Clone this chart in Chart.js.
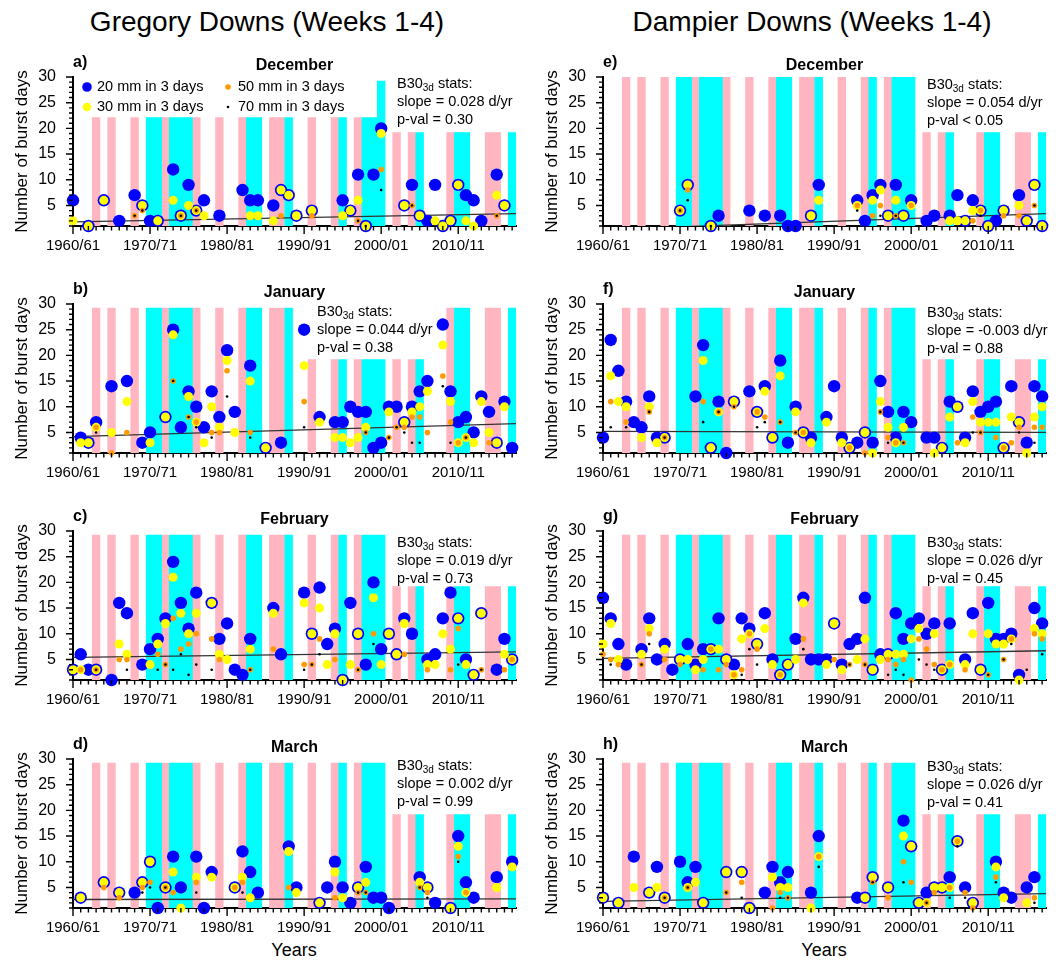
<!DOCTYPE html>
<html>
<head>
<meta charset="utf-8">
<script src="https://cdn.jsdelivr.net/npm/chart.js@4.4.1/dist/chart.umd.min.js"></script>
<style>
  body { margin: 0; background: #fff; width: 1060px; height: 967px; position: relative; overflow: hidden;
         font-family: "Liberation Sans", Arial, Helvetica, sans-serif; color: #000; }
  .box { position: absolute; width: 530px; height: 219px; }
  .head { position: absolute; top: 6px; font-size: 28px; line-height: 32px; white-space: nowrap; transform: translateX(-50%); }
  .years { position: absolute; top: 939px; font-size: 18px; line-height: 22px; transform: translateX(-50%); }
</style>
</head>
<body>
<div class="head" style="left:267px">Gregory Downs (Weeks 1-4)</div>
<div class="head" style="left:812px">Dampier Downs (Weeks 1-4)</div>

<div class="box" style="left:0;top:37px"><canvas id="pa"></canvas></div>
<div class="box" style="left:0;top:264px"><canvas id="pb"></canvas></div>
<div class="box" style="left:0;top:491px"><canvas id="pc"></canvas></div>
<div class="box" style="left:0;top:719px"><canvas id="pd"></canvas></div>
<div class="box" style="left:530px;top:37px"><canvas id="pe"></canvas></div>
<div class="box" style="left:530px;top:264px"><canvas id="pf"></canvas></div>
<div class="box" style="left:530px;top:491px"><canvas id="pg"></canvas></div>
<div class="box" style="left:530px;top:719px"><canvas id="ph"></canvas></div>

<div class="years" style="left:294px">Years</div>
<div class="years" style="left:824px">Years</div>

<script>
const _ = null;
const years = Array.from({length: 58}, (v, i) => 1960 + i);   // 1960/61 .. 2017/18

// ENSO shading
const pinkYears = [1963, 1965, 1968, 1972, 1976, 1979, 1982, 1986, 1987, 1991, 1994, 1997, 2002, 2004, 2009, 2014, 2015];
const cyanYears = [1970, 1971, 1973, 1974, 1975, 1983, 1984, 1988, 1995, 1998, 1999, 2000, 2005, 2010, 2011, 2017];

// band heights: [from, to, top]
const bandsA = [[1960, 1999, 22.1], [2000, 2000, 29.2], [2001, 2017, 19.2]];
const bandsB = [[1960, 1989, 29.2], [1990, 2006, 19.2], [2007, 2017, 29.2]];
const bandsStd = [[1960, 2000, 29.2], [2001, 2017, 19.2]];
const bandsE = [[1960, 2000, 30], [2001, 2017, 19.2]];

// ---- Gregory Downs ----
// December
const gdDec20 = [6,_,1,_,6,_,2,_,7,5, 2,2,_,12,3,9,4,6,_,3, _,_,8,6,6,_,5,8,7,3, _,4,_,_,_,6,4,11,1,11, 20,_,_,5,9,3,2,9,1,2, 9,7,6,2,_,11,5,_];
const gdDec30 = [2,_,1,_,6,_,_,_,_,5, _,2,_,6,3,5,4,3,_,_, _,_,_,3,3,_,2,8,7,3, _,4,_,_,_,3,4,6,1,_, 19,_,_,5,_,3,_,2,1,2, 9,2,1,_,_,7,5,_];
const gdDec50 = [_,_,_,_,_,_,_,_,3,4, _,_,_,_,3,_,4,_,_,_, _,_,_,_,_,_,_,3,_,_, _,3,_,_,_,_,_,2,_,_, 12,_,_,_,5,_,_,_,_,_, _,_,_,_,_,3,_,_];
const gdDec70 = [_,_,_,_,_,_,_,_,3,4, _,_,_,_,3,_,4,_,_,_, _,_,_,_,_,_,_,_,_,_, _,_,_,_,_,_,_,2,1,_, 8,_,_,_,5,_,_,_,_,_, _,_,_,_,_,3,_,_];
// January
const gdJan20 = [_,4,3,7,_,14,_,15,_,3, 5,_,8,25,6,13,10,6,13,8, 21,9,_,18,_,2,_,3,_,_, 25,_,8,_,7,7,10,9,9,2, 3,10,10,7,10,13,15,_,26,13, 7,8,5,12,9,3,11,2];
const gdJan30 = [_,3,3,6,_,5,_,11,_,_, 3,_,8,24,_,12,7,3,10,6, 19,5,_,15,_,2,_,_,_,_, 18,_,7,_,4,4,3,4,6,_, _,9,_,7,9,10,13,_,22,11, 3,4,3,11,5,3,10,_];
const gdJan50 = [_,_,_,6,_,1,_,5,_,_, _,_,_,15,_,8,7,_,5,5, 17,_,_,5,_,_,_,_,_,_, 11,_,_,_,_,_,_,_,5,_, _,4,6,6,8,8,5,_,16,7, 3,4,_,_,3,_,_,_];
const gdJan70 = [_,_,_,5,_,_,_,_,_,_, _,_,_,15,_,8,6,_,4,_, 12,_,_,4,_,_,_,_,_,_, 6,_,_,_,_,_,_,_,5,_, _,4,6,5,3,3,_,_,14,3, _,4,_,_,_,_,_,_];
// February
const gdFeb20 = [3,6,3,3,_,1,16,14,_,4, 7,9,13,24,16,11,18,_,16,9, 12,3,2,9,_,_,15,6,_,_, 18,10,19,8,11,1,16,10,4,20, 7,10,6,13,10,_,5,6,13,18, 13,5,2,14,_,3,9,5];
const gdFeb30 = [3,3,_,3,_,_,8,6,_,_, 4,8,12,21,14,10,14,_,16,6, 5,_,_,7,_,_,14,_,_,_, 16,10,15,4,10,1,4,10,_,17, 4,10,6,12,_,_,4,4,10,7, 13,4,2,14,_,_,6,5];
const gdFeb50 = [_,3,_,3,_,_,5,5,_,_, _,6,4,13,7,8,10,_,9,5, _,_,_,3,_,_,7,_,_,_, 4,4,9,_,5,_,_,3,_,10, _,_,_,6,_,_,3,_,_,3, 11,_,_,3,_,_,3,5];
const gdFeb70 = [_,_,_,3,_,_,_,3,_,_, _,3,4,3,6,2,4,_,3,_, _,_,_,3,_,_,_,_,_,_, 3,4,6,_,_,_,_,3,_,8, _,_,_,_,_,_,_,_,_,_, 4,_,_,3,_,_,_,_];
// March
const gdMar20 = [_,3,_,_,6,_,4,_,4,6, 10,1,5,11,5,_,11,1,8,_, _,5,12,8,4,_,_,_,13,5, _,_,2,5,10,5,2,5,9,3, 3,1,_,_,_,7,5,2,_,1, 15,6,3,_,_,7,_,10];
const gdMar30 = [_,3,_,_,6,_,4,_,_,6, 10,_,5,8,1,_,7,_,7,_, _,5,7,3,_,_,_,_,12,4, _,_,2,_,8,3,_,5,6,_, _,_,_,_,_,6,5,_,_,1, 13,4,_,_,_,5,_,9];
const gdMar50 = [_,_,_,_,5,_,3,_,_,5, 6,_,5,4,_,_,6,_,_,_, _,5,6,_,_,_,_,_,5,_, _,_,_,_,3,_,_,4,4,_, _,_,_,_,_,5,4,_,_,_, 11,4,_,_,_,_,_,_];
const gdMar70 = [_,_,_,_,_,_,_,_,_,4, 5,_,5,_,_,_,4,_,_,_, _,_,4,_,_,_,_,_,_,_, _,_,_,_,_,_,_,4,4,_, _,_,_,_,_,5,3,_,_,_, 10,_,_,_,_,_,_,_];

// ---- Dampier Downs ----
// December
const ddDec20 = [_,_,_,_,_,_,_,_,_,_, 4,9,_,_,1,3,_,_,_,4, _,3,_,3,1,1,_,3,9,_, _,_,_,6,2,7,9,3,9,3, 6,_,2,3,_,3,7,2,6,4, 1,2,4,_,7,2,9,1];
const ddDec30 = [_,_,_,_,_,_,_,_,_,_, 4,9,_,_,1,_,_,_,_,_, _,_,_,_,_,_,_,3,6,_, _,_,_,5,_,6,8,3,6,3, 5,_,_,_,_,2,2,2,4,4, 1,_,4,_,5,2,9,1];
const ddDec50 = [_,_,_,_,_,_,_,_,_,_, 4,8,_,_,_,_,_,_,_,_, _,_,_,_,_,_,_,_,_,_, _,_,_,5,_,3,5,_,3,_, 5,_,_,_,_,_,_,_,2,4, _,_,3,_,3,_,5,_];
const ddDec70 = [_,_,_,_,_,_,_,_,_,_, 4,6,_,_,1,_,_,_,_,_, _,_,_,_,_,_,_,_,_,_, _,_,_,4,_,_,3,_,3,_, _,_,_,_,_,_,_,_,_,3, _,_,_,_,_,_,5,_];
// January
const ddJan20 = [4,23,17,11,7,6,12,4,4,_, _,_,12,22,2,11,1,11,_,13, 9,14,4,19,3,10,5,4,_,8, 14,4,2,3,5,3,15,9,4,9, 7,_,4,4,2,11,10,4,13,9, 10,11,2,14,7,3,14,12];
const ddJan30 = [_,16,11,10,_,4,10,3,4,_, _,_,_,19,2,9,_,11,_,_, 9,13,4,16,_,9,5,3,_,7, _,3,2,_,5,1,11,6,3,6, _,_,_,1,2,8,10,3,11,7, 7,7,2,8,7,1,8,10];
const ddJan50 = [_,11,_,7,_,_,9,_,4,_, _,_,_,11,_,9,_,10,_,_, 9,8,_,7,_,5,5,_,_,_, _,_,2,_,1,_,9,4,3,3, _,_,_,_,_,_,3,_,8,5, _,4,2,3,6,_,6,6];
const ddJan70 = [_,6,_,6,_,_,9,_,4,_, _,_,_,7,_,9,_,10,_,_, 6,7,_,7,_,5,_,_,_,_, _,_,_,_,_,_,9,3,_,3, _,_,_,_,_,_,_,_,5,5, _,_,_,_,5,_,3,_];
// February
const ddFeb20 = [17,13,8,4,_,7,13,5,8,3, 5,8,4,7,7,13,5,4,13,11, 8,14,5,2,4,9,17,5,5,5, 12,4,8,9,17,3,6,6,14,9, 12,13,10,12,3,12,_,5,14,3, 16,9,9,10,2,_,15,12];
const ddFeb30 = [8,12,5,_,_,6,11,_,7,_, 5,5,3,5,7,7,5,2,9,10, 8,11,4,2,4,5,16,_,_,4, 12,3,_,5,9,3,5,6,6,6, 9,11,_,10,3,4,_,4,10,3, 10,8,8,9,1,_,11,10];
const ddFeb50 = [6,5,4,_,_,4,10,_,5,_, 4,_,_,3,7,3,4,2,3,10, 7,_,_,2,_,_,9,_,_,_, 5,_,4,_,4,_,_,5,4,5, 1,9,7,4,3,4,_,3,_,_, 2,_,5,9,_,_,10,9];
const ddFeb70 = [_,4,_,_,_,4,8,_,_,_, _,_,_,_,_,_,_,_,2,7, 4,_,_,_,_,_,7,_,_,_, _,_,4,_,4,_,_,2,3,2, _,5,4,3,_,_,_,_,_,_, 2,_,5,8,_,3,_,6];
// March
const ddMar20 = [3,_,2,_,11,_,4,9,3,_, 10,6,9,2,_,_,8,_,8,1, _,4,9,6,8,_,_,4,15,_, _,_,_,3,3,7,_,5,_,18, 13,2,4,5,5,7,14,5,2,_, _,10,4,3,_,5,7,_];
const ddMar30 = [3,_,2,_,5,_,4,5,3,_, _,5,6,2,_,_,8,_,8,1, _,_,7,5,5,_,_,1,11,_, _,_,_,_,3,7,_,5,_,15, 13,2,2,5,5,5,14,_,2,_, _,9,3,_,_,2,_,_];
const ddMar50 = [_,_,_,_,_,_,_,_,3,_, _,5,_,_,_,_,4,_,6,_, _,_,1,4,3,_,_,_,11,_, _,_,_,_,_,6,_,3,_,10, 6,_,2,4,_,5,14,4,1,_, _,7,_,_,_,_,3,_];
const ddMar70 = [_,_,_,_,_,_,_,_,3,_, _,5,_,_,_,_,4,_,3,_, _,_,_,3,3,_,_,_,9,_, _,_,_,_,_,6,_,_,_,6, _,_,2,_,_,3,13,3,_,_, _,6,_,_,_,_,2,_];

// trend slopes (d/yr) and fitted value at 1960/61
const slopes = [0.028, 0.044, 0.019, 0.002, 0.054, -0.003, 0.026, 0.026];
const trendStart = [1.8, 4.2, 5.4, 2.65, 0.3, 5.2, 5.2, 2.3];
const pvals = ['p-val = 0.30', 'p-val = 0.38', 'p-val = 0.73', 'p-val = 0.99',
               'p-val < 0.05', 'p-val = 0.88', 'p-val = 0.45', 'p-val = 0.41'];

const panels = [
  {id: 'pa', tag: 'a)', month: 'December', s: [gdDec20, gdDec30, gdDec50, gdDec70], bands: bandsA, statsX: 324, statsY: 7, legend: true},
  {id: 'pb', tag: 'b)', month: 'January',  s: [gdJan20, gdJan30, gdJan50, gdJan70], bands: bandsB, statsX: 244, statsY: 8},
  {id: 'pc', tag: 'c)', month: 'February', s: [gdFeb20, gdFeb30, gdFeb50, gdFeb70], bands: bandsStd, statsX: 324, statsY: 12},
  {id: 'pd', tag: 'd)', month: 'March',    s: [gdMar20, gdMar30, gdMar50, gdMar70], bands: bandsStd, statsX: 324, statsY: 7},
  {id: 'pe', tag: 'e)', month: 'December', s: [ddDec20, ddDec30, ddDec50, ddDec70], bands: bandsE, statsX: 324, statsY: 8},
  {id: 'pf', tag: 'f)', month: 'January',  s: [ddJan20, ddJan30, ddJan50, ddJan70], bands: bandsStd, statsX: 324, statsY: 9},
  {id: 'pg', tag: 'g)', month: 'February', s: [ddFeb20, ddFeb30, ddFeb50, ddFeb70], bands: bandsStd, statsX: 324, statsY: 12},
  {id: 'ph', tag: 'h)', month: 'March',    s: [ddMar20, ddMar30, ddMar50, ddMar70], bands: bandsStd, statsX: 324, statsY: 8}
];

const FONT = '"Liberation Sans", Arial, Helvetica, sans-serif';
Chart.defaults.font.family = FONT;
Chart.defaults.color = '#000';

const BLUE = '#0000ff', YELLOW = '#ffff00', ORANGE = '#ff9a00', PINK = '#ffb6c1', CYAN = '#00ffff';
const markers = [
  {label: '20 mm in 3 days', color: BLUE, r: 6.2},
  {label: '30 mm in 3 days', color: YELLOW, r: 4.5},
  {label: '50 mm in 3 days', color: ORANGE, r: 2.8},
  {label: '70 mm in 3 days', color: '#000', r: 1.3}
];

function toPoints(arr) {
  return years.map((yr, i) => ({x: yr, y: arr[i]})).filter(p => p.y !== null);
}
function bandTop(segs, yr) {
  const s = segs.find(g => yr >= g[0] && yr <= g[1]);
  return s ? s[2] : 0;
}

// ticks, panel letters, month titles, stats text and the legend
const decor = {
  id: 'decor',
  afterDraw(chart, args, opt) {
    const {ctx, chartArea: ca, scales: {x, y}} = chart;
    const i = opt.idx;
    const p = panels[i];
    ctx.save();
    ctx.strokeStyle = '#000';
    ctx.lineWidth = 1.4;
    ctx.beginPath();
    for (let yr = 1960; yr <= 2017; yr++) {
      const px = x.getPixelForValue(yr);
      ctx.moveTo(px, ca.bottom);
      ctx.lineTo(px, ca.bottom + (yr % 10 === 0 ? 8 : 4.5));
    }
    for (let v = 1; v <= 30; v++) {
      const py = y.getPixelForValue(v);
      ctx.moveTo(ca.left, py);
      ctx.lineTo(ca.left - (v % 5 === 0 ? 7 : 4), py);
    }
    ctx.stroke();

    ctx.fillStyle = '#000';
    ctx.textBaseline = 'middle';
    ctx.font = 'bold 16px ' + FONT;
    ctx.textAlign = 'left';
    ctx.fillText(p.tag, ca.left, ca.top - 14);
    ctx.textAlign = 'center';
    ctx.fillText(p.month, (ca.left + ca.right) / 2, ca.top - 11);

    // stats block
    const sx = ca.left + p.statsX;
    const sy = ca.top + p.statsY;
    ctx.textAlign = 'left';
    ctx.font = '14.5px ' + FONT;
    ctx.fillText('B30', sx, sy);
    let w = ctx.measureText('B30').width;
    ctx.font = '10px ' + FONT;
    ctx.fillText('3d', sx + w, sy + 4);
    w += ctx.measureText('3d').width;
    ctx.font = '14.5px ' + FONT;
    ctx.fillText(' stats:', sx + w, sy);
    ctx.fillText('slope = ' + slopes[i].toFixed(3) + ' d/yr', sx, sy + 18);
    ctx.fillText(pvals[i], sx, sy + 36);

    if (p.legend) {
      const cols = [ca.left + 14, ca.left + 155];
      markers.forEach((m, k) => {
        const cx = cols[k >> 1];
        const cy = ca.top + 10 + (k % 2) * 20;
        ctx.fillStyle = m.color;
        ctx.beginPath();
        ctx.arc(cx, cy, k === 0 ? 4.8 : k === 1 ? 4.3 : m.r, 0, Math.PI * 2);
        ctx.fill();
        ctx.fillStyle = '#000';
        ctx.font = '14.5px ' + FONT;
        ctx.fillText(m.label, cx + 10, cy);
      });
    }
    ctx.restore();
  }
};

panels.forEach((p, i) => {
  const a = trendStart[i];
  const datasets = [];
  [3, 2, 1, 0].forEach((k, order) => {
    datasets.push({
      type: 'scatter',
      label: markers[k].label,
      data: toPoints(p.s[k]),
      backgroundColor: markers[k].color,
      borderWidth: 0,
      pointRadius: markers[k].r,
      pointHoverRadius: markers[k].r,
      clip: false,
      order: order
    });
  });
  datasets.push({
    type: 'line',
    label: 'trend',
    data: [{x: 1960, y: a}, {x: 2017.5, y: a + slopes[i] * 57.5}],
    borderColor: '#333',
    borderWidth: 1.3,
    pointRadius: 0,
    order: 4
  });
  datasets.push({
    type: 'bar',
    label: 'cyan',
    data: cyanYears.map(yr => ({x: yr, y: bandTop(p.bands, yr)})),
    backgroundColor: CYAN,
    grouped: false,
    barPercentage: 1,
    categoryPercentage: 1,
    order: 5
  });
  datasets.push({
    type: 'bar',
    label: 'pink',
    data: pinkYears.map(yr => ({x: yr, y: bandTop(p.bands, yr)})),
    backgroundColor: PINK,
    grouped: false,
    barPercentage: 1,
    categoryPercentage: 1,
    order: 6
  });

  new Chart(document.getElementById(p.id), {
    type: 'scatter',
    data: {datasets},
    options: {
      responsive: true,
      maintainAspectRatio: false,
      animation: false,
      events: [],
      layout: {padding: {top: 40, right: 14, left: 0, bottom: 0}},
      plugins: {legend: {display: false}, tooltip: {enabled: false}, decor: {idx: i}},
      scales: {
        x: {
          type: 'linear', min: 1960, max: 2017.5, offset: false, z: 1,
          grid: {display: false, drawTicks: false, offset: false},
          border: {display: true, color: '#000', width: 2},
          afterBuildTicks: s => { s.ticks = [1960, 1970, 1980, 1990, 2000, 2010].map(v => ({value: v})); },
          afterFit: s => { s.height = 30; },
          ticks: {
            font: {size: 15}, padding: 11, maxRotation: 0, autoSkip: false,
            callback: v => v + '/' + String((v + 1) % 100).padStart(2, '0')
          }
        },
        y: {
          type: 'linear', min: 1, max: 30, z: 1,
          grid: {display: false, drawTicks: false},
          border: {display: true, color: '#000', width: 2},
          afterBuildTicks: s => { s.ticks = [5, 10, 15, 20, 25, 30].map(v => ({value: v})); },
          afterFit: s => { s.width = 73; },
          ticks: {font: {size: 16}, padding: 17},
          title: {display: true, text: 'Number of burst days', font: {size: 17}, padding: {top: 12, bottom: 0}}
        }
      }
    },
    plugins: [decor]
  });
});
</script>
</body>
</html>
